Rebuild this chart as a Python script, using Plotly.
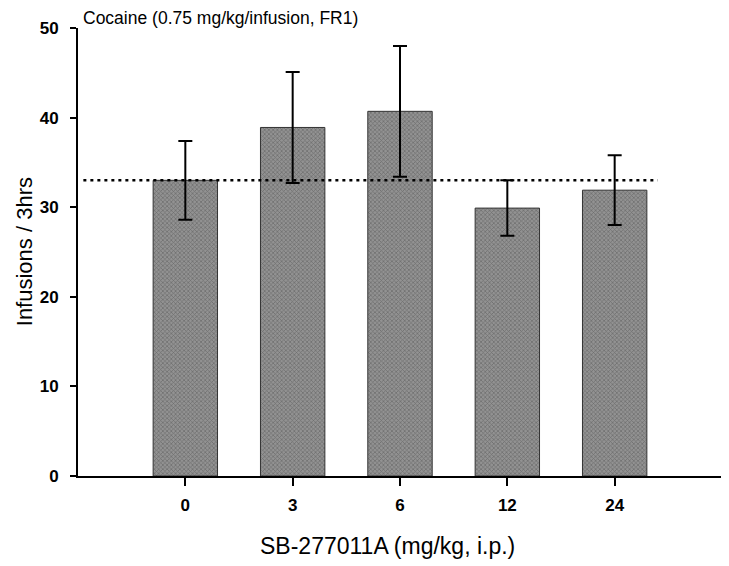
import plotly.graph_objects as go

doses = ["0", "3", "6", "12", "24"]
infusions = [33.0, 38.9, 40.7, 29.9, 31.9]
sem = [4.4, 6.2, 7.3, 3.1, 3.9]
control_mean = 33.0
y_ticks = [0, 10, 20, 30, 40, 50]

font_family = "Liberation Sans, Arial, sans-serif"

fig = go.Figure()
fig.add_trace(go.Bar(
    x=list(range(len(doses))),
    y=infusions,
    width=0.6,
    marker=dict(
        color="#8a8a8a",
        line=dict(color="#333333", width=1),
        pattern=dict(shape="x", fgcolor="#444444", bgcolor="#929292", size=3, solidity=0.4),
    ),
    error_y=dict(type="data", array=sem, visible=True, color="black", thickness=2, width=7),
    showlegend=False,
))

fig.add_shape(type="line", xref="x", yref="y",
              x0=-0.95, x1=4.4, y0=control_mean, y1=control_mean,
              line=dict(color="black", width=2.5, dash="3px,4px"))

# page body has an 8px margin, so the figure is sized to compensate
fig.update_layout(
    width=721, height=558,
    margin=dict(l=70, r=7, t=20, b=90),
    plot_bgcolor="white", paper_bgcolor="white",
    font=dict(family=font_family, color="black"),
    bargap=0.4,
)

fig.update_xaxes(
    range=[-1, 5],
    tickmode="array", tickvals=list(range(len(doses))), ticktext=doses,
    showline=True, linecolor="black", linewidth=2,
    ticks="outside", ticklen=8, tickwidth=2, tickcolor="black",
    tickfont=dict(size=17, family=font_family, weight="bold"),
    ticklabelstandoff=5,
    showgrid=False, zeroline=False, automargin=False,
)
fig.update_yaxes(
    range=[0, 50],
    tickmode="array", tickvals=y_ticks,
    showline=True, linecolor="black", linewidth=2,
    ticks="outside", ticklen=6, tickwidth=2, tickcolor="black",
    tickfont=dict(size=17, family=font_family, weight="bold"),
    ticklabelstandoff=8,
    showgrid=False, zeroline=False, automargin=False,
)

fig.add_annotation(
    text="Cocaine (0.75 mg/kg/infusion, FR1)",
    xref="paper", yref="paper", x=0.005, y=1.0, xanchor="left", yanchor="bottom",
    yshift=-2, showarrow=False, font=dict(size=17.5, family=font_family, color="black"),
)
fig.add_annotation(
    text="SB-277011A (mg/kg, i.p.)",
    xref="paper", yref="paper", x=0.481, y=-0.156, xanchor="center", yanchor="middle",
    showarrow=False, font=dict(size=23, family=font_family, color="black"),
)
fig.add_annotation(
    text="Infusions / 3hrs", textangle=-90,
    xref="paper", yref="paper", x=-0.106, y=0.5, xanchor="left", yanchor="middle",
    showarrow=False, font=dict(size=22, family=font_family, color="black"),
)

fig.write_html("out.html")
